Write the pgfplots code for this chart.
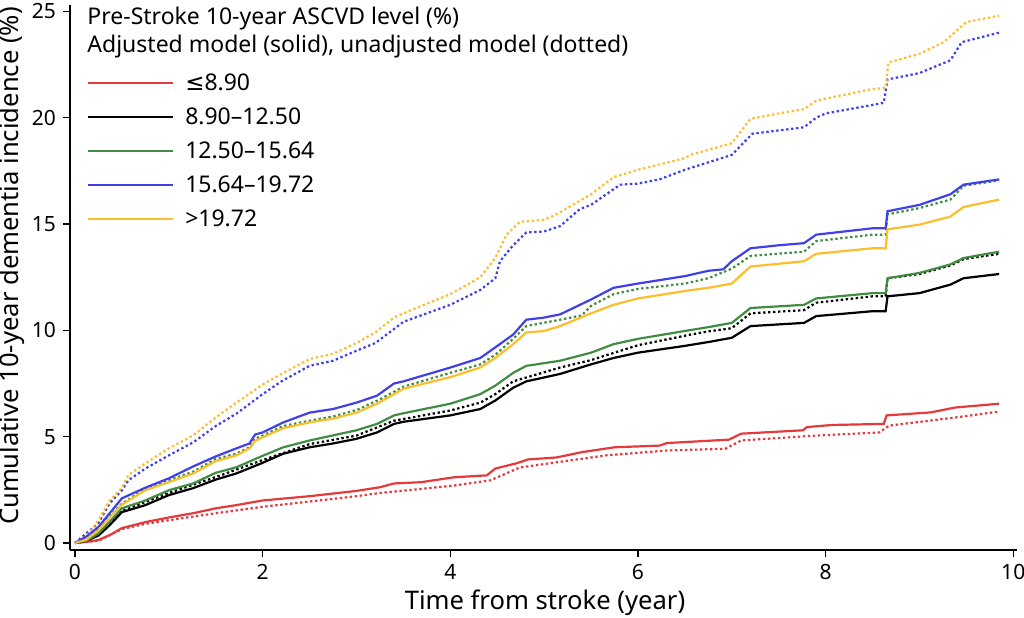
\documentclass[border=0pt]{standalone}
\usepackage{fontspec}
\setmainfont{Noto Sans}
\newfontfamily\dejavu{DejaVu Sans}
\usepackage{pgfplots}
\pgfplotsset{compat=1.18}
\definecolor{cred}{RGB}{228,58,60}
\definecolor{cgreen}{RGB}{64,140,64}
\definecolor{cblue}{RGB}{64,64,235}
\definecolor{cyellow}{RGB}{252,190,45}
\tikzset{
  sol/.style={line width=1.1pt},
  dot/.style={line width=1.1pt, dash pattern=on 1.2pt off 1.3pt}
}
\begin{document}
\begin{tikzpicture}
\useasboundingbox (-35pt,-33.5pt) rectangle (477pt,275pt);
\begin{axis}[
  at={(0,0)}, anchor=south west,
  scale only axis, width=473.5pt, height=272.5pt,
  xmin=-0.053, xmax=10.04, ymin=-0.33, ymax=25.3,
  axis lines*=left,
  axis line style={line width=0.7pt},
  xtick={0,2,4,6,8,10}, ytick={0,5,10,15,20,25},
  tick align=outside, major tick length=3.5pt,
  tick style={line width=0.7pt, black},
  ticklabel style={font=\fontsize{10.5}{12}\selectfont},
  /pgf/number format/assume math mode=true,
  xlabel={Time from stroke (year)},
  ylabel={Cumulative 10-year dementia incidence (\%)},
  label style={font=\fontsize{12.8}{15}\selectfont},
  xlabel style={at={(axis description cs:0.5016,-0.097)}, anchor=center},
  ylabel style={at={(axis description cs:-0.0612,0.521)}, anchor=center},
  clip=false,
  legend style={draw=none, fill=none, at={(axis description cs:0.018,0.8727)}, anchor=north west,
    inner sep=0pt, outer sep=0pt, row sep=6.5pt, column sep=5.5pt,
    nodes={inner sep=0pt, anchor=base west, text height=8pt, text depth=2.5pt, font=\fontsize{11.5}{13}\selectfont},
    cells={anchor=base west}},
  legend image code/.code={\draw[#1] (0pt,3.7pt) -- (42.5pt,3.7pt);},
]
% dotted (unadjusted)
\addplot[dot, cred, forget plot] coordinates {(0,0)(0.25,0.1)(0.5,0.65)(0.75,0.9)(1,1.07)(1.5,1.4)(2,1.7)(2.5,1.95)(3,2.2)(3.25,2.35)(4.04,2.7)(4.43,2.95)(4.74,3.55)(5.66,4.12)(6.31,4.35)(6.93,4.43)(7.1,4.82)(7.89,5.05)(8.57,5.2)(8.68,5.52)(9.38,5.9)(9.85,6.18)};
\addplot[dot, black, forget plot] coordinates {(0,0)(0.12,0.1)(0.25,0.4)(0.37,0.9)(0.5,1.5)(1,2.35)(1.5,3.1)(2,3.9)(2.5,4.65)(3,5.05)(3.4,5.75)(4,6.23)(4.32,6.6)(4.48,7.0)(4.67,7.6)(5.17,8.25)(5.5,8.6)(6,9.3)(6.56,9.8)(6.75,9.95)(7.0,10.1)(7.2,10.8)(7.77,10.95)(7.9,11.3)(8.5,11.6)(8.64,11.6)(8.66,12.45)(9.0,12.65)(9.33,13.05)(9.47,13.35)(9.85,13.6)};
\addplot[dot, cgreen, forget plot] coordinates {(0,0)(0.12,0.15)(0.25,0.65)(0.37,1.25)(0.5,1.85)(0.75,2.55)(1,2.95)(1.26,3.35)(1.5,3.95)(1.72,4.2)(1.86,4.5)(1.92,4.9)(2,5.05)(2.22,5.5)(2.5,5.75)(2.75,5.95)(3,6.25)(3.25,6.75)(3.5,7.35)(4,8.0)(4.32,8.4)(4.48,8.85)(4.67,9.6)(4.81,10.2)(5.17,10.5)(5.4,10.7)(5.5,11.15)(5.74,11.7)(6,11.95)(6.5,12.2)(6.75,12.45)(7.0,12.9)(7.2,13.5)(7.77,13.7)(7.9,14.2)(8.5,14.5)(8.64,14.5)(8.66,15.45)(9.0,15.75)(9.33,16.15)(9.47,16.8)(9.85,17.05)};
\addplot[dot, cblue, forget plot] coordinates {(0,0)(0.12,0.45)(0.25,0.93)(0.37,1.87)(0.5,2.48)(0.57,2.95)(0.75,3.5)(1,4.12)(1.26,4.73)(1.5,5.5)(1.72,6.08)(2,7.0)(2.2,7.6)(2.5,8.33)(2.75,8.57)(3,9.04)(3.2,9.4)(3.4,10.06)(3.5,10.4)(4,11.2)(4.32,11.9)(4.48,12.45)(4.53,13.25)(4.67,14.0)(4.81,14.6)(5,14.65)(5.17,14.9)(5.38,15.7)(5.5,15.9)(5.81,16.85)(6,16.9)(6.23,17.1)(6.5,17.55)(7.0,18.25)(7.22,19.25)(7.5,19.4)(7.77,19.55)(7.9,20.0)(8.0,20.2)(8.5,20.6)(8.62,20.7)(8.66,21.8)(9.0,22.1)(9.33,22.7)(9.45,23.55)(9.85,24.0)};
\addplot[dot, cyellow, forget plot] coordinates {(0,0)(0.12,0.3)(0.25,1.07)(0.37,2.0)(0.5,2.6)(0.57,3.2)(0.75,3.74)(1,4.45)(1.26,5.06)(1.5,5.9)(1.72,6.6)(2,7.45)(2.2,7.95)(2.5,8.65)(2.75,8.9)(3,9.4)(3.2,9.9)(3.4,10.6)(3.5,10.8)(4,11.7)(4.32,12.5)(4.48,13.4)(4.6,14.5)(4.74,15.1)(5,15.2)(5.13,15.45)(5.5,16.4)(5.74,17.2)(6,17.55)(6.23,17.8)(6.5,18.1)(6.56,18.25)(7.0,18.8)(7.2,19.95)(7.5,20.2)(7.77,20.4)(7.9,20.8)(8.0,20.9)(8.5,21.35)(8.64,21.4)(8.67,22.6)(9.0,23.0)(9.26,23.55)(9.5,24.5)(9.85,24.8)};
% solid (adjusted)
\addplot[sol, cred] coordinates {(0,0)(0.12,0.05)(0.25,0.14)(0.37,0.37)(0.5,0.7)(0.75,0.98)(1,1.2)(1.26,1.4)(1.5,1.63)(1.72,1.78)(2,2.0)(2.5,2.2)(3,2.45)(3.25,2.62)(3.4,2.8)(3.69,2.86)(4.04,3.09)(4.39,3.18)(4.48,3.5)(4.7,3.74)(4.83,3.93)(5.13,4.02)(5.4,4.27)(5.75,4.5)(6.23,4.58)(6.31,4.7)(6.97,4.86)(7.1,5.14)(7.76,5.3)(7.8,5.45)(8.07,5.55)(8.62,5.6)(8.65,6.0)(9.12,6.14)(9.38,6.37)(9.85,6.55)};
\addlegendentry{{\dejavu ≤}8.90}
\addplot[sol, black] coordinates {(0,0)(0.12,0.1)(0.25,0.35)(0.37,0.84)(0.5,1.45)(0.75,1.78)(1,2.25)(1.26,2.58)(1.5,2.98)(1.72,3.27)(2,3.77)(2.22,4.2)(2.5,4.5)(2.75,4.68)(3,4.9)(3.22,5.2)(3.4,5.6)(3.5,5.7)(4,6.0)(4.32,6.3)(4.48,6.7)(4.67,7.3)(4.81,7.6)(5.17,7.95)(5.5,8.4)(5.74,8.7)(6,8.95)(6.5,9.27)(6.75,9.45)(7.0,9.65)(7.2,10.2)(7.77,10.35)(7.9,10.67)(8.5,10.9)(8.64,10.9)(8.66,11.6)(9.0,11.75)(9.33,12.15)(9.47,12.45)(9.85,12.65)};
\addlegendentry{8.90--12.50}
\addplot[sol, cgreen] coordinates {(0,0)(0.12,0.1)(0.25,0.45)(0.37,1.0)(0.5,1.63)(0.75,2.0)(1,2.48)(1.26,2.8)(1.5,3.3)(1.72,3.56)(2,4.1)(2.22,4.5)(2.5,4.82)(2.75,5.06)(3,5.3)(3.22,5.6)(3.4,6.0)(3.5,6.1)(4,6.55)(4.32,7.0)(4.48,7.4)(4.67,8.0)(4.81,8.33)(5.17,8.57)(5.5,8.95)(5.74,9.35)(6,9.6)(6.5,9.97)(6.75,10.15)(7.0,10.35)(7.2,11.05)(7.77,11.2)(7.9,11.5)(8.5,11.75)(8.64,11.75)(8.66,12.45)(9.0,12.7)(9.33,13.1)(9.47,13.4)(9.85,13.7)};
\addlegendentry{12.50--15.64}
\addplot[sol, cblue] coordinates {(0,0)(0.12,0.3)(0.25,0.75)(0.37,1.4)(0.5,2.1)(0.75,2.6)(1,3.04)(1.26,3.6)(1.5,4.07)(1.72,4.45)(1.86,4.68)(1.92,5.1)(2,5.2)(2.22,5.67)(2.5,6.13)(2.75,6.3)(3,6.6)(3.22,6.93)(3.4,7.5)(3.5,7.6)(4,8.25)(4.32,8.7)(4.48,9.2)(4.67,9.8)(4.81,10.5)(5,10.6)(5.17,10.75)(5.5,11.45)(5.74,12.0)(6,12.2)(6.5,12.55)(6.75,12.8)(6.91,12.87)(7.0,13.25)(7.2,13.86)(7.5,14.0)(7.77,14.1)(7.9,14.5)(8.0,14.55)(8.5,14.8)(8.64,14.8)(8.66,15.6)(9.0,15.9)(9.33,16.4)(9.47,16.85)(9.85,17.1)};
\addlegendentry{15.64--19.72}
\addplot[sol, cyellow] coordinates {(0,0)(0.12,0.15)(0.25,0.6)(0.37,1.2)(0.5,1.8)(0.75,2.48)(1,2.86)(1.26,3.27)(1.5,3.85)(1.72,4.12)(1.86,4.45)(1.92,4.8)(2,4.97)(2.22,5.4)(2.5,5.67)(2.75,5.85)(3,6.13)(3.22,6.55)(3.4,7.0)(3.5,7.25)(4,7.8)(4.32,8.25)(4.48,8.7)(4.67,9.35)(4.81,9.9)(5,9.97)(5.17,10.2)(5.5,10.8)(5.74,11.2)(6,11.5)(6.5,11.85)(6.75,12.0)(7.0,12.2)(7.2,13.0)(7.77,13.25)(7.9,13.6)(8.5,13.86)(8.64,13.86)(8.66,14.75)(9.0,14.97)(9.33,15.35)(9.47,15.8)(9.85,16.15)};
\addlegendentry{>19.72}
\node[anchor=west, inner sep=0pt, font=\fontsize{11.5}{13}\selectfont] at (axis description cs:0.018,0.976) {Pre-Stroke 10-year ASCVD level (\%)};
\node[anchor=west, inner sep=0pt, font=\fontsize{11.5}{13}\selectfont] at (axis description cs:0.018,0.923) {Adjusted model (solid), unadjusted model (dotted)};
\end{axis}
\end{tikzpicture}
\end{document}
